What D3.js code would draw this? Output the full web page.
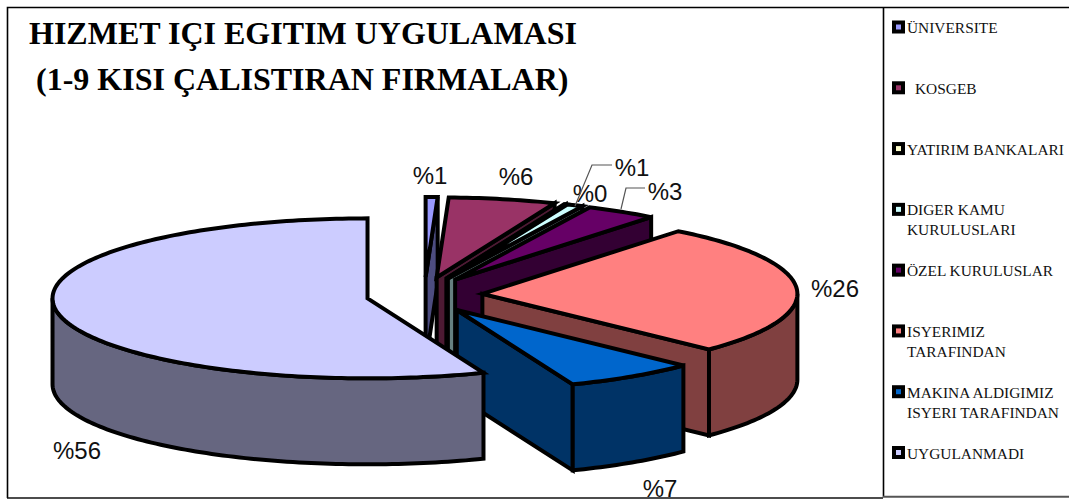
<!DOCTYPE html>
<html><head><meta charset="utf-8">
<script src="https://cdnjs.cloudflare.com/ajax/libs/d3/7.8.5/d3.min.js"></script>
<style>html,body{margin:0;padding:0;background:#fff}svg{display:block}</style>
</head><body><svg id="c" width="1069" height="500"></svg>
<script>
const categories = ["ÜNIVERSITE","KOSGEB","YATIRIM BANKALARI","DIGER KAMU|KURULUSLARI","ÖZEL KURULUSLAR","ISYERIMIZ|TARAFINDAN","MAKINA ALDIGIMIZ|ISYERI TARAFINDAN","UYGULANMADI"];
const values = [0.61,5.5,0.08,0.83,3.67,26.53,6.78,56];
const valueLabels = ["%1","%6","%0","%1","%3","%26","%7","%56"];
const topColors = ["#9999ff","#993366","#ffffcc","#ccffff","#660066","#ff8080","#0066cc","#ccccff"];
const wallColors = ["#4d4d80","#4d1a33","#808066","#668080","#330033","#804040","#003366","#666680"];
const titleLines = ["HIZMET IÇI EGITIM UYGULAMASI"," (1-9 KISI ÇALISTIRAN FIRMALAR)"];

const svg = d3.select("#c");
// frame
const frame = svg.append("g").attr("fill","none").attr("stroke","#000").attr("stroke-width",1.6);
frame.append("path").attr("d","M7.5,498V7.5H1069");
frame.append("path").attr("d","M883.5,7.5V497");
svg.append("path").attr("d","M7,498H883").attr("stroke","#111").attr("stroke-width",1.6);
svg.append("path").attr("d","M883,496.8H1069").attr("stroke","#555").attr("stroke-width",2);

// title
svg.append("g").selectAll("text").data(titleLines).join("text")
  .attr("xml:space","preserve").style("white-space","pre")
  .attr("x",(d,i)=>i?28:29).attr("y",(d,i)=>44+i*46)
  .attr("font-family","'Liberation Serif'").attr("font-weight","bold").attr("font-size",32)
  .attr("fill","#000").text(d=>d);

// pie
const px = d3.scaleLinear().domain([-1,1]).range([424.5-315,424.5+315]);
const py = d3.scaleLinear().domain([-1,1]).range([295-80,295+80]);
const depth = 86, explode = 58/315, explodeY = 18/80;
const pie = d3.pie().sort(null).value(d=>d);
const arcs = pie(values);
const g = svg.append("g").attr("stroke","#000").attr("stroke-width",4).attr("stroke-linejoin","miter");
const line = d3.line();
arcs.forEach((a,i)=>{
  const mid=(a.startAngle+a.endAngle)/2;
  const ux=Math.sin(mid)*explode, uy=-Math.cos(mid)*explodeY;
  const P=t=>[px(ux+Math.sin(t)),py(uy-Math.cos(t))];
  const tip=[px(ux),py(uy)];
  const sample=(s,e)=>{const n=Math.max(2,Math.ceil((e-s)/0.02));return d3.range(n+1).map(k=>P(s+(e-s)*k/n));};
  const down=p=>[p[0],p[1]+depth];
  // end radial wall
  if(a.endAngle<Math.PI){
    const e=P(a.endAngle);
    g.append("path").attr("d",line([tip,e,down(e),down(tip)])+"Z").attr("fill",wallColors[i]);
  }
  // outer wall
  const s=Math.max(a.startAngle,Math.PI/2), e=Math.min(a.endAngle,3*Math.PI/2);
  if(e>s){
    const arc=sample(s,e);
    g.append("path").attr("d",line(arc.concat(arc.map(down).reverse()))+"Z").attr("fill",wallColors[i]);
  }
  // top
  g.append("path").attr("d",line([tip].concat(sample(a.startAngle,a.endAngle)))+"Z").attr("fill",topColors[i]);
});

// data labels
const labelPos=[[430,184],[516,185],[590,202],[632,176],[665,200],[835,297],[660,497],[77,459]];
svg.append("g").selectAll("text").data(valueLabels).join("text")
  .attr("x",(d,i)=>labelPos[i][0]).attr("y",(d,i)=>labelPos[i][1])
  .attr("text-anchor","middle").attr("font-family","'Liberation Sans'").attr("font-size",24).attr("fill","#111").text(d=>d);
// leaders
svg.append("g").attr("fill","none").attr("stroke","#555").attr("stroke-width",1.2).selectAll("path")
  .data(["M575,206L592,165H612","M621,209L626,188H645"]).join("path").attr("d",d=>d);

// legend
const ly=d3.scalePoint().domain(categories).range([27,452.5]);
const lg=svg.append("g").selectAll("g").data(categories).join("g")
  .attr("transform",d=>`translate(0,${ly(d)})`);
lg.append("rect").attr("x",894).attr("y",-4.5).attr("width",9).attr("height",9)
  .attr("fill",(d,i)=>topColors[i]).attr("stroke","#000").attr("stroke-width",4);
lg.each(function(d){
  d3.select(this).selectAll("text").data(d.split("|")).join("text")
   .attr("x",d==="KOSGEB"?915:907).attr("y",(t,j)=>6+j*20)
   .attr("font-family","'Liberation Serif'").attr("font-size",15.4).attr("fill","#111").text(t=>t);
});
</script></body></html>
